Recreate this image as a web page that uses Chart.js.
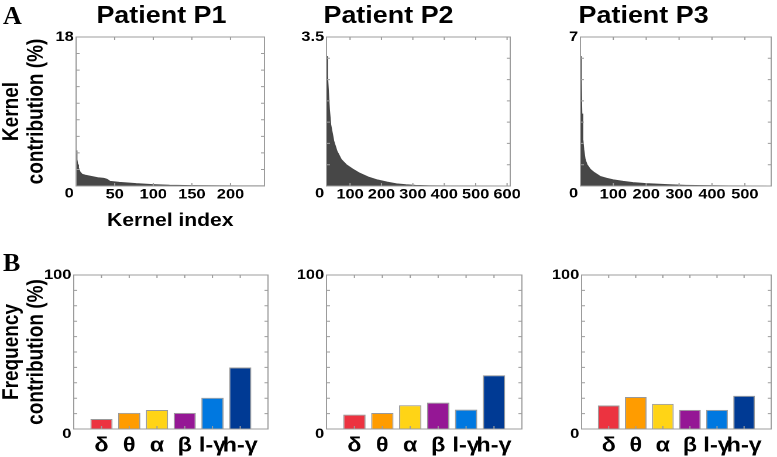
<!DOCTYPE html>
<html>
<head>
<meta charset="utf-8">
<script src="https://cdn.jsdelivr.net/npm/chart.js@4.4.0/dist/chart.umd.min.js"></script>
<style>
body{margin:0;width:777px;height:457px;overflow:hidden;background:#fff;font-family:"Liberation Sans",Arial,sans-serif}
#wrap{position:absolute;left:0;top:0;width:664px;height:457px;transform:scaleX(1.1702);transform-origin:0 0}
.panel{position:absolute}
.title{position:absolute;top:4px;width:200px;text-align:center;font-size:23px;line-height:23px;font-weight:bold}
.tag{position:absolute;left:3px;font-family:"Liberation Serif","Times New Roman",serif;font-weight:bold;font-size:26px;line-height:26px}
</style>
</head>
<body>
<div id="wrap">
<div class="title" style="left:38px">Patient P1</div>
<div class="title" style="left:232px">Patient P2</div>
<div class="title" style="left:450px">Patient P3</div>
<div class="panel" style="left:0;top:27px;width:238px;height:205px"><canvas id="k1"></canvas></div>
<div class="panel" style="left:249px;top:27px;width:201px;height:179px"><canvas id="k2"></canvas></div>
<div class="panel" style="left:471px;top:27px;width:193px;height:179px"><canvas id="k3"></canvas></div>
<div class="panel" style="left:0;top:265px;width:239px;height:192px"><canvas id="f1"></canvas></div>
<div class="panel" style="left:245px;top:265px;width:211px;height:192px"><canvas id="f2"></canvas></div>
<div class="panel" style="left:463px;top:265px;width:201px;height:192px"><canvas id="f3"></canvas></div>
</div>
<div class="tag" style="top:3px">A</div>
<div class="tag" style="top:250px">B</div>
<script>
// kernel contributions (%), sorted, read at sample indices
const kernelIdxP1 = [0,1,2,3,5,8,12,20,28,36,40,44,56,78,99,121,150,180,210,244]
const kernelValP1 = [4.3,3.2,2.6,2.2,1.7,1.4,1.3,1.15,1.0,0.92,0.8,0.56,0.44,0.28,0.17,0.09,0.05,0.03,0.02,0.01]
const kernelIdxP2 = [25,28,31,34,38,43,48,58,72,88,108,128,158,188,218,248,278,308,350,400,610]
const kernelValP2 = [3.05,2.6,2.2,1.8,1.45,1.25,1.05,0.82,0.62,0.5,0.4,0.31,0.21,0.14,0.09,0.05,0.03,0.015,0.006,0.002,0]
const kernelIdxP3 = [0,2,4,7,10,14,20,30,40,60,80,100,130,160,200,240,280,320,380,450,579]
const kernelValP3 = [6.1,5.0,3.4,2.2,1.7,1.25,1.0,0.78,0.65,0.45,0.36,0.29,0.22,0.16,0.11,0.08,0.05,0.03,0.015,0.008,0]

// frequency band contributions (%)
const bands = ['δ','θ','α','β','l-γ','h-γ']
const bandPos = [1,2,3,4,5,6]
const freqP1 = [6.5,10.5,12.3,10.5,20.3,39.9]
const freqP2 = [9.3,10.4,15.4,17.1,12.6,34.9]
const freqP3 = [15.3,20.8,16.3,12.4,12.4,21.6]

const bandColors = ['#ec3340','#ff9c00','#ffd416','#951795','#0078e0','#003a94']
const fillGray = '#474747'

Chart.defaults.font.family = '"Liberation Sans", Arial, sans-serif'
Chart.defaults.color = '#000'
Chart.defaults.animation = false

// matlab style box with inward ticks
const boxTicks = {
  id:'boxTicks',
  afterDatasetsDraw(chart){
    const {ctx, chartArea:a, scales:{x, y}} = chart
    ctx.save()
    ctx.strokeStyle = '#9c9c9c'
    ctx.lineWidth = 1
    ctx.beginPath()
    x.ticks.forEach(t => {
      if(t.value <= x.min || t.value >= x.max) return
      const px = x.getPixelForValue(t.value)
      ctx.moveTo(px, a.bottom); ctx.lineTo(px, a.bottom - 3)
      ctx.moveTo(px, a.top); ctx.lineTo(px, a.top + 3)
    })
    y.ticks.forEach(t => {
      if(t.value <= y.min || t.value >= y.max) return
      const py = y.getPixelForValue(t.value)
      ctx.moveTo(a.left, py); ctx.lineTo(a.left + 3, py)
      ctx.moveTo(a.right, py); ctx.lineTo(a.right - 3, py)
    })
    ctx.stroke()
    ctx.strokeRect(a.left, a.top, a.width, a.height)
    ctx.restore()
  }
}

function yAxis(max, step, width, title, lh){
  return {
    min:0, max:max,
    grid:{display:false, drawTicks:false}, border:{display:false},
    afterFit: s => { s.width = width },
    title: title ? {display:true, text:title, padding:0, font:{size:19, weight:'bold', lineHeight:1.1}} : {display:false},
    ticks:{stepSize:step, autoSkip:false, padding:2, font:{size:14, weight:'bold', lineHeight:lh},
      callback: v => v === 0 ? ['', '0'] : (Math.abs(v - max) < 1e-9 ? String(max) : '')}
  }
}

function kernelChart(id, idx, vals, xMin, xMax, xStep, yMax, yStep, yW, xH, padR, yTitle, xTitle){
  new Chart(document.getElementById(id), {
    type:'line',
    data:{datasets:[{
      data: idx.map((x, i) => ({x:x, y:vals[i]})),
      borderColor:fillGray, backgroundColor:fillGray, borderWidth:1,
      fill:'origin', pointRadius:0, tension:0
    }]},
    options:{
      responsive:true, maintainAspectRatio:false, devicePixelRatio:2, events:[],
      layout:{padding:{top:10, right:padR, bottom:0, left:0}},
      plugins:{legend:{display:false}, tooltip:{enabled:false}},
      scales:{
        x:{type:'linear', min:xMin, max:xMax,
          grid:{display:false, drawTicks:false}, border:{display:false},
          afterFit: s => { s.height = xH },
          title: xTitle ? {display:true, text:xTitle, padding:0, font:{size:18, weight:'bold'}} : {display:false},
          ticks:{stepSize:xStep, includeBounds:false, autoSkip:false, maxRotation:0, minRotation:0, padding:0,
            font:{size:14, weight:'bold'}, callback: v => v === 0 ? '' : String(v)}},
        y: yAxis(yMax, yStep, yW, yTitle, 1.1)
      }
    },
    plugins:[boxTicks]
  })
}

function bandChart(id, vals, yW, padR, yTitle){
  new Chart(document.getElementById(id), {
    type:'bar',
    data:{datasets:[{
      data: bandPos.map((x, i) => ({x:x, y:vals[i]})),
      backgroundColor:bandColors, borderColor:'rgba(70,70,70,0.55)', borderWidth:1,
      barPercentage:0.8, categoryPercentage:1
    }]},
    options:{
      responsive:true, maintainAspectRatio:false, devicePixelRatio:2, events:[],
      layout:{padding:{top:10, right:padR, bottom:0, left:0}},
      plugins:{legend:{display:false}, tooltip:{enabled:false}},
      scales:{
        x:{type:'linear', min:0, max:7, offset:false,
          grid:{display:false, drawTicks:false}, border:{display:false},
          afterFit: s => { s.height = 28 },
          ticks:{stepSize:1, autoSkip:false, maxRotation:0, minRotation:0, padding:5,
            font:{size:20, weight:'bold'}, callback: v => bands[v - 1] || ''}},
        y: yAxis(100, 10, yW, yTitle, 0.75)
      }
    },
    plugins:[boxTicks]
  })
}

kernelChart('k1', kernelIdxP1, kernelValP1, 0, 244, 50, 18, 2, 65, 46, 12, ['Kernel', 'contribution (%)'], 'Kernel index')
kernelChart('k2', kernelIdxP2, kernelValP2, 25, 610, 100, 3.5, 0.5, 30, 20, 14, null, null)
kernelChart('k3', kernelIdxP3, kernelValP3, 0, 580, 100, 7, 1, 25, 20, 5, null, null)

bandChart('f1', freqP1, 63, 10, ['Frequency', 'contribution (%)'])
bandChart('f2', freqP2, 34, 10, null)
bandChart('f3', freqP3, 34, 1, null)
</script>
</body>
</html>
